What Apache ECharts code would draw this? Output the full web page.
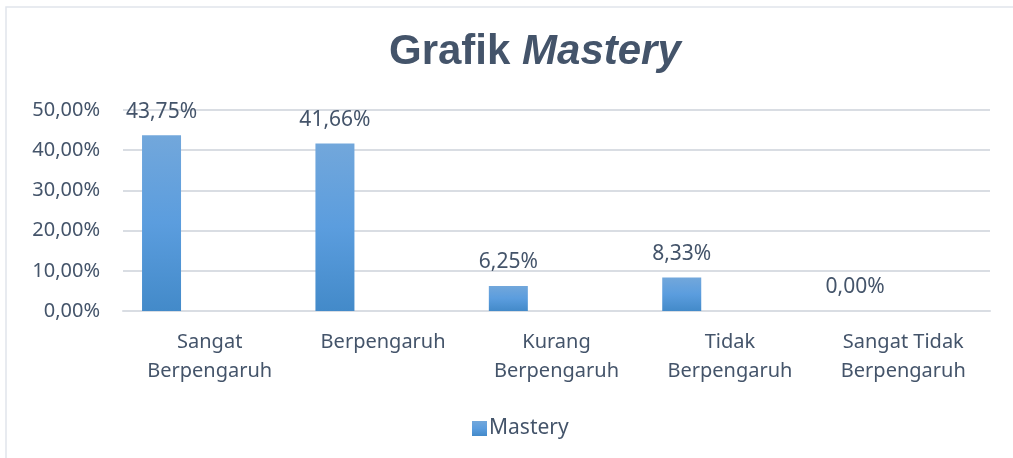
<!DOCTYPE html>
<html>
<head>
<meta charset="utf-8">
<script src="https://cdn.jsdelivr.net/npm/echarts@6/dist/echarts.min.js"></script>
<style>
  html, body { margin: 0; padding: 0; background: #fff; }
  #chart { width: 1013px; height: 458px; }
</style>
</head>
<body>
<div id="chart"></div>
<script>
var categories = ['Sangat\nBerpengaruh', 'Berpengaruh', 'Kurang\nBerpengaruh', 'Tidak\nBerpengaruh', 'Sangat Tidak\nBerpengaruh'];
var mastery = [43.75, 41.66, 6.25, 8.33, 0];
var yTicks = [0, 10, 20, 30, 40, 50];

var textColor = '#44546a';
var font = 'Noto Sans';

function pct(v) {
    return v.toFixed(2).replace('.', ',') + '%';
}

var barColor = new echarts.graphic.LinearGradient(0, 0, 0, 1, [
    {offset: 0, color: '#72a7db'},
    {offset: 0.5, color: '#5b9dde'},
    {offset: 1, color: '#438ac9'}
]);

var myChart = echarts.init(document.getElementById('chart'));

var option = {
    animation: false,
    graphic: [
        {
            type: 'rect',
            shape: {x: 6, y: 7, width: 1200, height: 600},
            style: {fill: 'none', stroke: '#e1e5ec', lineWidth: 1.5},
            silent: true
        }
    ],
    title: {
        text: '{a|Grafik }{b|Mastery}',
        left: 384,
        top: 26,
        textStyle: {
            rich: {
                a: {fontFamily: 'Liberation Sans', fontWeight: 'bold', fontSize: 42, color: textColor},
                b: {fontFamily: 'Liberation Sans', fontWeight: 'bold', fontStyle: 'italic', fontSize: 42, color: textColor}
            }
        }
    },
    legend: {
        data: ['Mastery'],
        left: 467,
        top: 413,
        itemWidth: 15,
        itemHeight: 15,
        icon: 'rect',
        textStyle: {fontFamily: font, fontSize: 21, color: textColor, padding: [0, 0, 0, -3]}
    },
    grid: {
        left: 123,
        right: 23,
        top: 110,
        bottom: 147,
        containLabel: false
    },
    xAxis: {
        type: 'category',
        data: categories,
        axisTick: {show: false},
        axisLine: {lineStyle: {color: '#d9dde3', width: 2}},
        axisLabel: {
            fontFamily: font,
            fontSize: 20,
            color: textColor,
            lineHeight: 29,
            margin: 17,
            interval: 0
        }
    },
    yAxis: {
        type: 'value',
        min: yTicks[0],
        max: yTicks[yTicks.length - 1],
        interval: 10,
        axisLine: {show: false},
        axisTick: {show: false},
        splitLine: {lineStyle: {color: '#d9dde3', width: 2}},
        axisLabel: {
            fontFamily: font,
            fontSize: 20,
            color: textColor,
            margin: 23,
            formatter: function (v) { return pct(v); }
        }
    },
    series: [
        {
            name: 'Mastery',
            type: 'bar',
            barWidth: 39,
            barGap: '147%',
            data: mastery,
            itemStyle: {color: barColor},
            label: {
                show: true,
                position: 'top',
                distance: 13,
                fontFamily: font,
                fontSize: 21,
                color: textColor,
                formatter: function (p) { return pct(p.value); }
            }
        },
        {
            // empty second series, keeps bars left of the category centre
            name: 'spacer',
            type: 'bar',
            barWidth: 39,
            data: ['-', '-', '-', '-', '-']
        }
    ]
};

myChart.setOption(option);
</script>
</body>
</html>
